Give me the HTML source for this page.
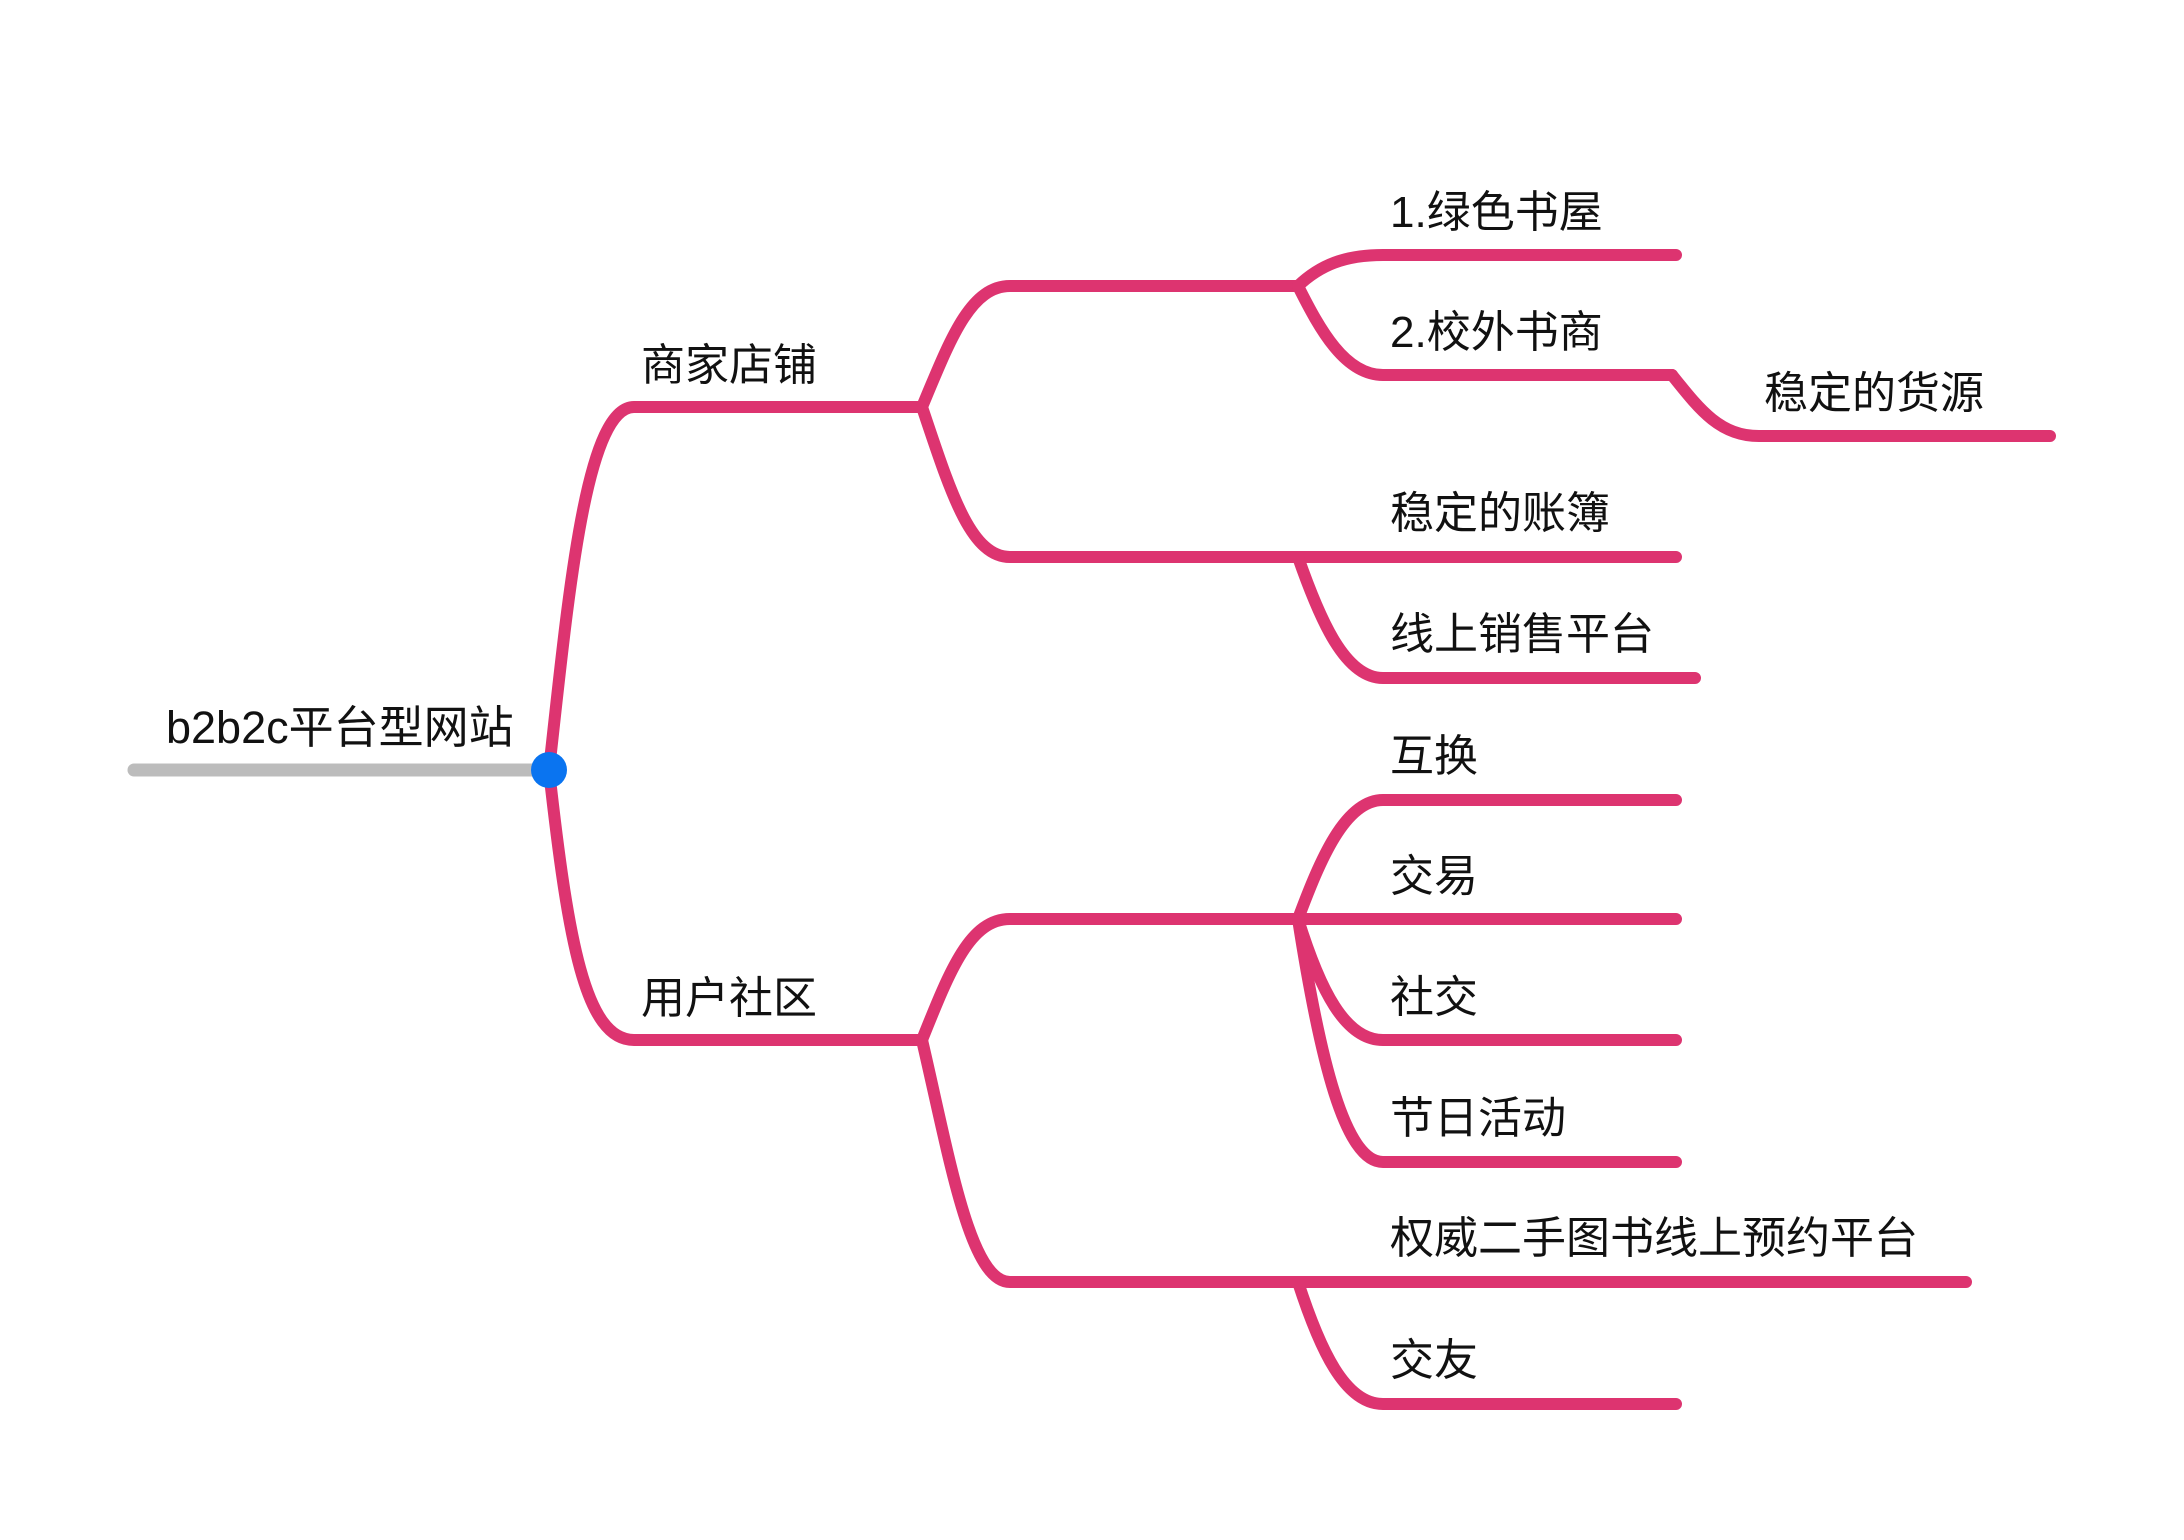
<!DOCTYPE html>
<html><head><meta charset="utf-8"><style>
html,body{margin:0;padding:0;background:#fff;}
svg{display:block;}
text{font-family:"Liberation Sans","Noto Sans CJK SC",sans-serif;font-size:44px;fill:#111;}
</style></head><body>
<svg width="2184" height="1540" viewBox="0 0 2184 1540" xmlns="http://www.w3.org/2000/svg">
<g fill="none" stroke="#dd3470" stroke-width="12" stroke-linecap="round">
<path d="M549 770 C 568 600, 585 407, 634 407 L 922 407"/>
<path d="M549 770 C 568 940, 585 1040, 634 1040 L 922 1040"/>
<path d="M922 407 C 950 340, 970 286, 1010 286 L 1298 286"/>
<path d="M922 407 C 950 490, 970 557, 1010 557 L 1676 557"/>
<path d="M1298 286 C 1320 265, 1345 255, 1383 255 L 1676 255"/>
<path d="M1298 286 C 1320 330, 1345 375, 1383 375 L 1672 375"/>
<path d="M1672 375 C 1700 410, 1720 436, 1759 436 L 2050 436"/>
<path d="M1298 557 C 1320 620, 1345 678, 1383 678 L 1695 678"/>
<path d="M922 1040 C 950 970, 970 919, 1010 919 L 1676 919"/>
<path d="M922 1040 C 950 1160, 970 1282, 1010 1282 L 1966 1282"/>
<path d="M1298 919 C 1320 860, 1345 800, 1383 800 L 1676 800"/>
<path d="M1298 919 C 1320 990, 1345 1040, 1383 1040 L 1676 1040"/>
<path d="M1298 919 C 1320 1060, 1345 1162, 1383 1162 L 1676 1162"/>
<path d="M1298 1282 C 1320 1350, 1345 1404, 1383 1404 L 1676 1404"/>
</g>
<line x1="134" y1="770" x2="540" y2="770" stroke="#bcbcbc" stroke-width="13" stroke-linecap="round"/>
<circle cx="549" cy="770" r="18" fill="#0a74f0"/>
<text x="166" y="743" style="font-size:45px">b2b2c平台型网站</text>
<text x="641" y="380">商家店铺</text>
<text x="641" y="1013">用户社区</text>
<text x="1390" y="227">1.绿色书屋</text>
<text x="1390" y="347">2.校外书商</text>
<text x="1764" y="408">稳定的货源</text>
<text x="1390" y="528">稳定的账簿</text>
<text x="1390" y="649">线上销售平台</text>
<text x="1390" y="771">互换</text>
<text x="1390" y="891">交易</text>
<text x="1390" y="1012">社交</text>
<text x="1390" y="1133">节日活动</text>
<text x="1390" y="1253">权威二手图书线上预约平台</text>
<text x="1390" y="1375">交友</text>
</svg>
</body></html>
